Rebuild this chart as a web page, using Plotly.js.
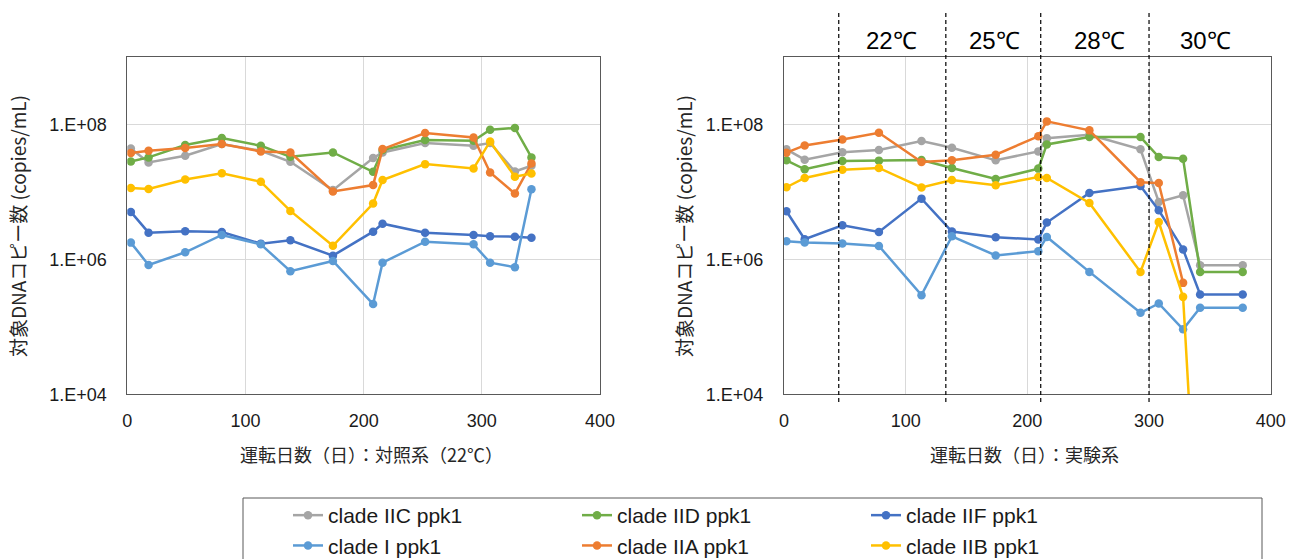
<!DOCTYPE html>
<html>
<head>
<meta charset="utf-8">
<script src="https://cdn.plot.ly/plotly-3.0.1.min.js"></script>
<style>
html,body{margin:0;padding:0;background:#fff;width:1295px;height:559px;overflow:hidden;}
#chart{width:1295px;height:559px;overflow:hidden;}
</style>
</head>
<body>
<div id="chart"></div>
<script>
// ---- data ----
const seriesNames = ['clade IIC ppk1','clade IID ppk1','clade IIF ppk1','clade I ppk1','clade IIA ppk1','clade IIB ppk1'];
const seriesColors = ['#A5A5A5','#70AD47','#4472C4','#5B9BD5','#ED7D31','#FFC000'];

// control system (22℃), days of operation
const daysControl = [3, 18, 49, 80, 113, 138, 174, 208, 216, 252, 293, 307, 328, 342];
const ctrlIIC = [4.45e7, 2.75e7, 3.46e7, 5.16e7, 4.1e7, 2.82e7, 1.07e7, 3.2e7, 3.87e7, 5.35e7, 4.87e7, 5.35e7, 2.02e7, 2.46e7];
const ctrlIID = [2.85e7, 3.27e7, 4.99e7, 6.34e7, 4.87e7, 3.34e7, 3.87e7, 2.0e7, 4.21e7, 5.92e7, 5.78e7, 8.43e7, 8.93e7, 3.27e7];
const ctrlIIF = [5.08e6, 2.5e6, 2.63e6, 2.56e6, 1.72e6, 1.93e6, 1.14e6, 2.59e6, 3.4e6, 2.5e6, 2.31e6, 2.21e6, 2.18e6, 2.11e6];
const ctrlI   = [1.78e6, 8.3e5, 1.28e6, 2.31e6, 1.68e6, 6.7e5, 9.5e5, 2.18e5, 8.96e5, 1.84e6, 1.68e6, 8.96e5, 7.7e5, 1.1e7];
const ctrlIIA = [3.8e7, 4.1e7, 4.5e7, 5.16e7, 4.0e7, 3.87e7, 1.02e7, 1.27e7, 4.35e7, 7.53e7, 6.47e7, 1.95e7, 9.5e6, 2.66e7];
const ctrlIIB = [1.15e7, 1.11e7, 1.54e7, 1.91e7, 1.42e7, 5.26e6, 1.6e6, 6.76e6, 1.51e7, 2.6e7, 2.24e7, 5.65e7, 1.69e7, 1.89e7];

// experimental system, days of operation
const daysExp = [2, 17, 48, 78, 113, 138, 174, 209, 216, 251, 293, 308, 328, 342, 377];
const expIIC = [4.31e7, 3.03e7, 3.89e7, 4.21e7, 5.71e7, 4.56e7, 2.96e7, 4.02e7, 6.32e7, 7.11e7, 4.31e7, 7.13e6, 8.97e6, 8.24e5, 8.24e5];
const expIID = [2.96e7, 2.18e7, 2.89e7, 2.93e7, 2.99e7, 2.28e7, 1.56e7, 2.23e7, 5.1e7, 6.55e7, 6.55e7, 3.31e7, 3.13e7, 6.55e5, 6.55e5];
const expIIF = [5.2e6, 2.0e6, 3.22e6, 2.56e6, 8.0e6, 2.6e6, 2.14e6, 1.98e6, 3.53e6, 9.7e6, 1.23e7, 5.37e6, 1.41e6, 3.03e5, 3.03e5];
const expI   = [1.87e6, 1.79e6, 1.73e6, 1.59e6, 2.96e5, 2.21e6, 1.15e6, 1.33e6, 2.16e6, 6.55e5, 1.62e5, 2.23e5, 9.2e4, 1.92e5, 1.92e5];
const expIIA = [3.85e7, 4.93e7, 6.05e7, 7.6e7, 2.79e7, 2.96e7, 3.59e7, 6.72e7, 1.12e8, 8.24e7, 1.4e7, 1.36e7, 4.5e5, null, null];
const expIIB = [1.18e7, 1.62e7, 2.15e7, 2.28e7, 1.17e7, 1.51e7, 1.26e7, 1.68e7, 1.62e7, 6.9e6, 6.55e5, 3.6e6, 2.79e5, 10, null];

// temperature phases of the experimental system
const phaseBoundaries = [45, 133, 211, 300];
const phaseLabels = ['22℃', '25℃', '28℃', '30℃'];
const phaseLabelDays = [88, 173, 259, 346];

const yTickVals = [1e4, 1e6, 1e8];
const yTickText = ['1.E+04', '1.E+06', '1.E+08'];
const xTickVals = [0, 100, 200, 300, 400];

const yTitle = '対象DNAコピー数 (copies/mL)';
const xTitleCtrl = '運転日数（日）：対照系（22℃）';
const xTitleExp = '運転日数（日）：実験系';

// ---- build ----
const ctrlSeries = [ctrlIIC, ctrlIID, ctrlIIF, ctrlI, ctrlIIA, ctrlIIB];
const expSeries = [expIIC, expIID, expIIF, expI, expIIA, expIIB];
const legendIds = ['legend', 'legend2', 'legend3'];

const traces = [];
seriesNames.forEach((name, i) => {
  traces.push({
    x: daysControl, y: ctrlSeries[i], name: name, type: 'scatter', mode: 'lines+markers',
    xaxis: 'x', yaxis: 'y', legendgroup: name, showlegend: true, legend: legendIds[i % 3],
    line: {color: seriesColors[i], width: 2.5}, marker: {color: seriesColors[i], size: 8.5},
    connectgaps: false
  });
});
seriesNames.forEach((name, i) => {
  traces.push({
    x: daysExp, y: expSeries[i], name: name, type: 'scatter', mode: 'lines+markers',
    xaxis: 'x2', yaxis: 'y2', legendgroup: name, showlegend: false, legend: legendIds[i % 3],
    line: {color: seriesColors[i], width: 2.5}, marker: {color: seriesColors[i], size: 8.5},
    connectgaps: false
  });
});

const W = 1295, H = 559;
const px = v => v / W;
const py = v => (H - v) / H;

const tickFont = {family: 'Liberation Sans, Arial, sans-serif', size: 18, color: '#1a1a1a'};
const cjk = 'Noto Sans CJK JP, sans-serif';

function xAxis(domain, anchor) {
  return {
    domain: domain, anchor: anchor, range: [0, 400], tickvals: xTickVals,
    showgrid: true, gridcolor: '#d9d9d9', gridwidth: 1, zeroline: false,
    showline: true, mirror: true, linecolor: '#595959', linewidth: 1,
    ticks: 'outside', ticklen: 10, tickcolor: 'rgba(0,0,0,0)', tickfont: tickFont, automargin: false
  };
}
function yAxis(domain, anchor) {
  return {
    domain: domain, anchor: anchor, type: 'log', range: [4, 9],
    tickvals: yTickVals, ticktext: yTickText,
    showgrid: true, gridcolor: '#d9d9d9', gridwidth: 1, zeroline: false,
    showline: true, mirror: true, linecolor: '#595959', linewidth: 1,
    ticks: 'outside', ticklen: 16, tickcolor: 'rgba(0,0,0,0)', tickfont: tickFont, automargin: false
  };
}

const yDom = [py(394.3), py(57.3)];
const shapes = phaseBoundaries.map(d => ({
  type: 'line', xref: 'x2', yref: 'paper', x0: d, x1: d, y0: py(402), y1: py(12),
  line: {color: '#000', width: 1.2, dash: '4px,3px'}
}));
shapes.push({
  type: 'rect', xref: 'paper', yref: 'paper', x0: px(243), x1: px(1262), y0: py(575), y1: py(498),
  line: {color: '#595959', width: 1}, fillcolor: 'rgba(0,0,0,0)'
});

const annotations = [
  {text: yTitle, xref: 'paper', yref: 'paper', x: px(17), y: py(226), textangle: -90, showarrow: false,
   xanchor: 'center', yanchor: 'middle', font: {family: cjk, size: 19, color: '#262626'}},
  {text: yTitle, xref: 'paper', yref: 'paper', x: px(683), y: py(226), textangle: -90, showarrow: false,
   xanchor: 'center', yanchor: 'middle', font: {family: cjk, size: 19, color: '#262626'}},
  {text: xTitleCtrl, xref: 'paper', yref: 'paper', x: px(371), y: py(454), showarrow: false,
   xanchor: 'center', yanchor: 'middle', font: {family: cjk, size: 18, color: '#262626'}},
  {text: xTitleExp, xref: 'paper', yref: 'paper', x: px(1024), y: py(454), showarrow: false,
   xanchor: 'center', yanchor: 'middle', font: {family: cjk, size: 18, color: '#262626'}}
];
phaseLabels.forEach((t, i) => {
  annotations.push({text: t, xref: 'x2', yref: 'paper', x: phaseLabelDays[i], y: py(40), showarrow: false,
    xanchor: 'center', yanchor: 'middle', font: {family: 'Liberation Sans, Arial, sans-serif', size: 24, color: '#000'}});
});

function legendAt(xPix) {
  return {
    xref: 'container', yref: 'container', x: px(xPix), y: py(495), xanchor: 'left', yanchor: 'top',
    orientation: 'v', traceorder: 'normal', itemwidth: 30,
    font: {family: 'Liberation Sans, Arial, sans-serif', size: 21, color: '#1a1a1a'},
    bgcolor: 'rgba(0,0,0,0)', borderwidth: 0
  };
}

const layout = {
  width: W, height: H, autosize: false,
  margin: {l: 0, r: 0, t: 0, b: 0, pad: 0, autoexpand: false},
  paper_bgcolor: '#fff', plot_bgcolor: '#fff',
  xaxis: xAxis([px(127.3), px(600)], 'y'),
  yaxis: yAxis(yDom, 'x'),
  xaxis2: xAxis([px(784), px(1270.7)], 'y2'),
  yaxis2: yAxis(yDom, 'x2'),
  showlegend: true,
  legend: legendAt(288),
  legend2: legendAt(577),
  legend3: legendAt(866),
  shapes: shapes,
  annotations: annotations
};

Plotly.newPlot('chart', traces, layout, {displayModeBar: false, staticPlot: true});
</script>
</body>
</html>
